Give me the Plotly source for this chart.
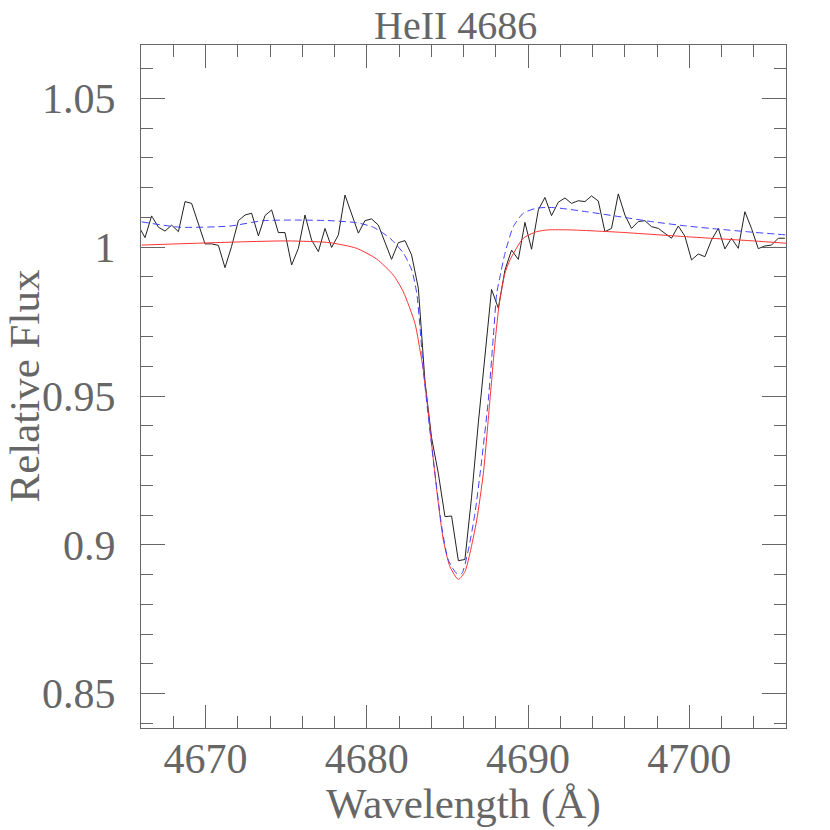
import plotly.graph_objects as go

# observed spectrum (black), wavelength in Angstrom
wave = [
    4665.84, 4666.25, 4666.66, 4667.08, 4667.49, 4667.90, 4668.32, 4668.73, 4669.14, 4669.56,
    4669.97, 4670.38, 4670.80, 4671.21, 4671.62, 4672.04, 4672.45, 4672.86, 4673.28, 4673.69,
    4674.10, 4674.52, 4674.93, 4675.34, 4675.76, 4676.17, 4676.58, 4677.00, 4677.41, 4677.82,
    4678.24, 4678.65, 4679.06, 4679.48, 4679.89, 4680.30, 4680.72, 4681.13, 4681.54, 4681.96,
    4682.37, 4682.78, 4683.20, 4683.61, 4684.02, 4684.44, 4684.85, 4685.26, 4685.68, 4686.09,
    4686.50, 4686.92, 4687.33, 4687.74, 4688.16, 4688.57, 4688.98, 4689.40, 4689.81, 4690.22,
    4690.64, 4691.05, 4691.46, 4691.88, 4692.29, 4692.70, 4693.12, 4693.53, 4693.94, 4694.36,
    4694.77, 4695.18, 4695.60, 4696.01, 4696.42, 4696.84, 4697.25, 4697.66, 4698.08, 4698.49,
    4698.90, 4699.32, 4699.73, 4700.14, 4700.56, 4700.97, 4701.38, 4701.80, 4702.21, 4702.62,
    4703.04, 4703.45, 4703.86, 4704.28, 4704.69, 4705.10, 4705.52, 4705.93,
]
flux = [
    1.0072, 1.0032, 1.0105, 1.0067, 1.0054, 1.0074, 1.0052, 1.0153, 1.0147, 1.0080,
    1.0011, 1.0011, 1.0006, 0.9931, 1.0003, 1.0089, 1.0108, 1.0114, 1.0038, 1.0106,
    1.0125, 1.0049, 1.0049, 0.9940, 0.9996, 1.0108, 1.0024, 0.9985, 1.0063, 0.9999,
    1.0041, 1.0175, 1.0114, 1.0047, 1.0089, 1.0095, 1.0074, 1.0018, 0.9959, 1.0015,
    1.0022, 0.9974, 0.9862, 0.9550, 0.9360, 0.9240, 0.9095, 0.9097, 0.8947, 0.8951,
    0.9160, 0.9410, 0.9640, 0.9858, 0.9795, 0.9923, 0.9990, 0.9959, 1.0083, 0.9993,
    1.0125, 1.0167, 1.0106, 1.0151, 1.0165, 1.0147, 1.0156, 1.0153, 1.0172, 1.0155,
    1.0052, 1.0063, 1.0179, 1.0108, 1.0063, 1.0086, 1.0089, 1.0069, 1.0063, 1.0047,
    1.0030, 1.0071, 1.0037, 0.9957, 0.9977, 0.9968, 1.0024, 1.0063, 0.9994, 1.0030,
    0.9996, 1.0119, 1.0063, 0.9995, 1.0004, 1.0007, 1.0030, 1.0030,
]

# model 1 (red, solid)
red_wave = [
    4666.04, 4675.04, 4677.72, 4679.38, 4680.62, 4681.65, 4682.27, 4682.99, 4683.30, 4683.51,
    4683.82, 4684.13, 4684.44, 4684.75, 4685.16, 4685.68, 4686.09, 4686.40, 4686.82, 4687.23,
    4687.64, 4687.95, 4688.22, 4688.57, 4688.88, 4689.71, 4690.54, 4691.26, 4692.60, 4695.71,
    4699.84, 4703.97, 4706.04,
]
red_flux = [
    1.0007, 1.0021, 1.0015, 0.9996, 0.9960, 0.9906, 0.9850, 0.9744, 0.9655, 0.9587,
    0.9442, 0.9285, 0.9140, 0.9016, 0.8927, 0.8884, 0.8910, 0.8972, 0.9083, 0.9240,
    0.9487, 0.9677, 0.9811, 0.9912, 0.9957, 1.0030, 1.0052, 1.0058, 1.0058, 1.0050,
    1.0035, 1.0021, 1.0013,
]

# model 2 (blue, dashed)
blue_wave = [
    4666.04, 4668.42, 4671.52, 4673.58, 4675.66, 4677.72, 4679.38, 4680.41, 4681.44, 4682.27,
    4682.79, 4683.10, 4683.30, 4683.51, 4683.82, 4684.23, 4684.65, 4685.06, 4685.58, 4685.89,
    4686.30, 4686.71, 4687.13, 4687.54, 4687.85, 4688.06, 4688.26, 4688.57, 4689.09, 4689.71,
    4690.54, 4691.57, 4693.64, 4695.71, 4697.77, 4699.84, 4701.91, 4703.97, 4706.04,
]
blue_flux = [
    1.0085, 1.0067, 1.0071, 1.0089, 1.0091, 1.0089, 1.0082, 1.0067, 1.0030, 0.9980,
    0.9923, 0.9845, 0.9733, 0.9587, 0.9430, 0.9240, 0.9061, 0.8949, 0.8904, 0.8904,
    0.8983, 0.9106, 0.9285, 0.9487, 0.9699, 0.9845, 0.9900, 0.9979, 1.0069, 1.0114,
    1.0131, 1.0133, 1.0119, 1.0102, 1.0085, 1.0071, 1.0060, 1.0050, 1.0041,
]

font_name = "Liberation Serif"
grey = "#666666"

fig = go.Figure()

fig.add_trace(go.Scatter(x=wave, y=flux, mode="lines",
                         line=dict(color="#222222", width=1)))
fig.add_trace(go.Scatter(x=red_wave, y=red_flux, mode="lines",
                         line=dict(color="#ff3333", width=1, shape="spline", smoothing=0.6)))
fig.add_trace(go.Scatter(x=blue_wave, y=blue_flux, mode="lines",
                         line=dict(color="#4040ff", width=1, dash="7px,4px",
                                   shape="spline", smoothing=0.6)))

fig.update_layout(
    width=830, height=830,
    margin=dict(l=141, r=44, t=45, b=102, autoexpand=False),
    paper_bgcolor="white",
    plot_bgcolor="white",
    showlegend=False,
    font=dict(family=font_name, size=42, color=grey),
)

# title and axis titles as annotations so they sit where the reference has them
fig.add_annotation(text="HeII 4686", xref="paper", yref="paper", x=0.488, y=1,
                   xanchor="center", yanchor="top", yshift=44, showarrow=False,
                   font=dict(family=font_name, size=40, color=grey))
fig.add_annotation(text="Wavelength (Å)", xref="paper", yref="paper", x=0.5, y=0,
                   xanchor="center", yanchor="top", yshift=-50, showarrow=False,
                   font=dict(family=font_name, size=43, color=grey))
fig.add_annotation(text="Relative Flux", xref="paper", yref="paper", x=0, y=0.5,
                   xanchor="center", yanchor="middle", xshift=-117, textangle=-90,
                   showarrow=False, font=dict(family=font_name, size=43, color=grey))

fig.update_xaxes(
    range=[4666, 4706],
    tickvals=[4670, 4680, 4690, 4700],
    ticks="inside", ticklen=23, tickwidth=1, tickcolor=grey,
    minor=dict(dtick=2, tick0=4666, ticks="inside", ticklen=12, tickcolor=grey, showgrid=False),
    showline=True, linecolor=grey, linewidth=1, mirror="allticks",
    showgrid=False, zeroline=False, automargin=False,
    ticklabelstandoff=-6,
)

fig.update_yaxes(
    range=[0.8385, 1.0679],
    tickvals=[0.85, 0.9, 0.95, 1.0, 1.05],
    ticktext=["0.85", "0.9", "0.95", "1", "1.05"],
    ticks="inside", ticklen=24, tickwidth=1, tickcolor=grey,
    minor=dict(dtick=0.01, tick0=0.8, ticks="inside", ticklen=12, tickcolor=grey, showgrid=False),
    showline=True, linecolor=grey, linewidth=1, mirror="allticks",
    showgrid=False, zeroline=False, automargin=False,
    ticklabelstandoff=16,
)

# the page body has a default 8px margin; drop it so the figure sits at 0,0
fig.write_html("out.html", config={"displayModeBar": False},
               post_script="document.body.style.margin = '0px';")
